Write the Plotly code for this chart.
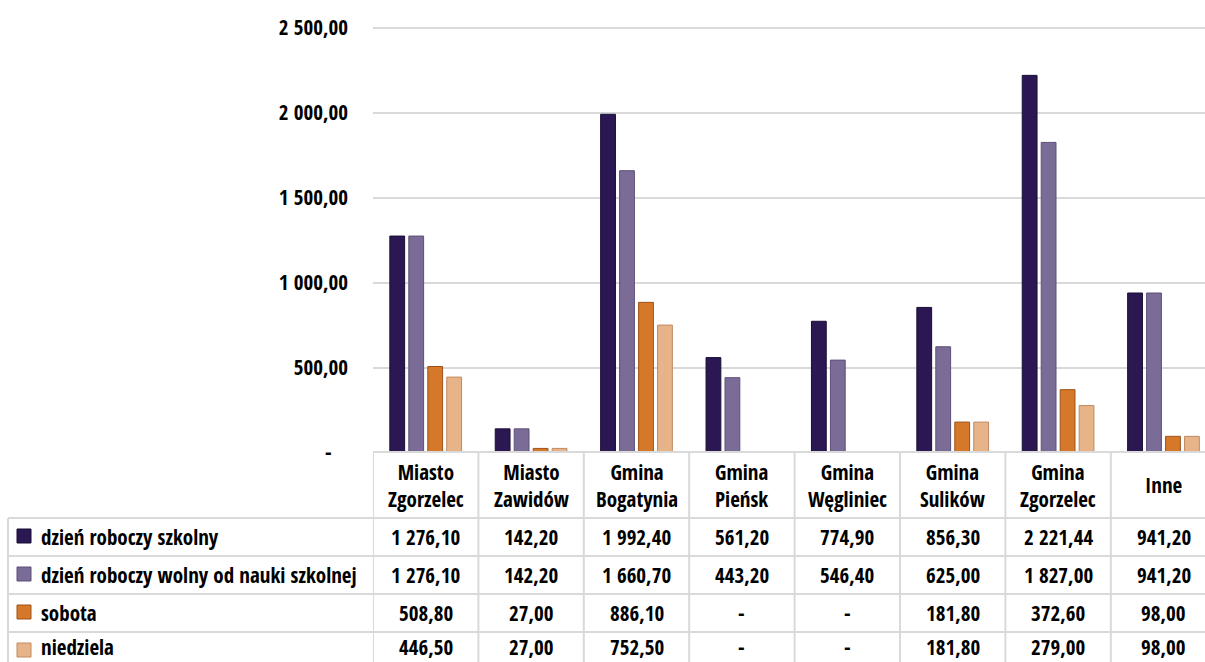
import plotly.graph_objects as go

# --- data -------------------------------------------------------------
categories = ["Miasto Zgorzelec", "Miasto Zawidów", "Gmina Bogatynia", "Gmina Pieńsk",
              "Gmina Węgliniec", "Gmina Sulików", "Gmina Zgorzelec", "Inne"]
header_labels = ["Miasto<br>Zgorzelec", "Miasto<br>Zawidów", "Gmina<br>Bogatynia", "Gmina<br>Pieńsk",
                 "Gmina<br>Węgliniec", "Gmina<br>Sulików", "Gmina<br>Zgorzelec", "Inne"]

series_names = ["dzień roboczy szkolny", "dzień roboczy wolny od nauki szkolnej", "sobota", "niedziela"]
dzien_szkolny = [1276.10, 142.20, 1992.40, 561.20, 774.90, 856.30, 2221.44, 941.20]
dzien_wolny = [1276.10, 142.20, 1660.70, 443.20, 546.40, 625.00, 1827.00, 941.20]
sobota = [508.80, 27.00, 886.10, 0.0, 0.0, 181.80, 372.60, 98.00]
niedziela = [446.50, 27.00, 752.50, 0.0, 0.0, 181.80, 279.00, 98.00]

y_ticks = [0, 500, 1000, 1500, 2000, 2500]

colors = ["#2B1852", "#7B6B97", "#D6782A", "#E6B488"]
edge_colors = ["#1A0E36", "#5E5078", "#9E5218", "#C08A62"]

FONT = "Open Sans Condensed, Liberation Sans Narrow, DejaVu Sans Condensed, Roboto Condensed, Noto Sans"
FS = 21


def fmt(v):
    """Polish accounting style: space thousands, comma decimals, dash for zero."""
    if v == 0:
        return "-"
    s = f"{v:,.2f}"
    return s.replace(",", " ").replace(".", ",")


# --- geometry (pixels of the 1205x662 canvas) -------------------------
W, H = 1205, 662
L, R, T, B = 373, 0, 11, 209
plot_w = W - L - R
plot_h = H - T - B
y_max = 2600


def py(p):
    """pixel row -> paper y"""
    return (H - B - p) / plot_h


def px(p):
    """pixel column -> paper x"""
    return (p - L) / plot_w


n = len(categories)
xs = list(range(n))
fig = go.Figure()
all_series = [dzien_szkolny, dzien_wolny, sobota, niedziela]
for name, vals, c, e in zip(series_names, all_series, colors, edge_colors):
    fig.add_trace(go.Bar(
        x=xs, y=vals, name=name,
        marker=dict(color=c, line=dict(color=e, width=1)),
        showlegend=False,
    ))

# --- data table under the chart ---------------------------------------
row_edges = [452, 518, 556, 594, 632, 670]
# text centre of each body row (the last one is kept inside the canvas)
row_text_y = [537, 575, 613, 647]
grid_col = "#D9D9D9"
shapes = []
# vertical cell borders of category columns
for i in range(n + 1):
    shapes.append(dict(type="line", xref="x", yref="paper", x0=i - 0.5, x1=i - 0.5,
                       y0=py(row_edges[0]), y1=py(row_edges[-1]),
                       line=dict(color=grid_col, width=2)))
# left border of label column
shapes.append(dict(type="line", xref="paper", yref="paper", x0=px(8), x1=px(8),
                   y0=py(row_edges[1]), y1=py(row_edges[-1]), line=dict(color=grid_col, width=2)))
# horizontal borders
shapes.append(dict(type="line", xref="paper", yref="paper", x0=0, x1=1,
                   y0=py(row_edges[0]), y1=py(row_edges[0]), line=dict(color=grid_col, width=2)))
for r in row_edges[1:]:
    shapes.append(dict(type="line", xref="paper", yref="paper", x0=px(8), x1=1,
                       y0=py(r), y1=py(r), line=dict(color=grid_col, width=2)))

annotations = []
tfont = dict(family=FONT, size=FS, color="#000000", weight="bold")
header_c = (row_edges[0] + row_edges[1]) / 2
for i, lab in enumerate(header_labels):
    annotations.append(dict(xref="x", yref="paper", x=i, y=py(header_c), text=lab,
                            showarrow=False, xanchor="center", yanchor="middle",
                            font=tfont, align="center"))
for r, (name, vals, c, e) in enumerate(zip(series_names, all_series, colors, edge_colors)):
    yc = row_text_y[r]
    key_c = (row_edges[r + 1] + row_edges[r + 2]) / 2 - 1
    annotations.append(dict(xref="paper", yref="paper", x=px(39), y=py(yc), text=name,
                            showarrow=False, xanchor="left", yanchor="middle", font=tfont))
    shapes.append(dict(type="rect", xref="paper", yref="paper", x0=px(17), x1=px(31),
                       y0=py(key_c - 7), y1=py(key_c + 7), fillcolor=c, line=dict(color=e, width=1)))
    for i, v in enumerate(vals):
        annotations.append(dict(xref="x", yref="paper", x=i, y=py(yc), text=fmt(v),
                                showarrow=False, xanchor="center", yanchor="middle", font=tfont))

tick_text = [fmt(v) if v else "-\u00a0\u00a0\u00a0" for v in y_ticks]

fig.update_layout(
    width=W, height=H,
    margin=dict(l=L, r=R, t=T, b=B, pad=0),
    paper_bgcolor="white", plot_bgcolor="white",
    barmode="group", bargap=0.28, bargroupgap=0.22,
    font=dict(family=FONT, size=FS, color="#000000"),
    xaxis=dict(range=[-0.5, -0.5 + plot_w / 105.4], showticklabels=False, showgrid=False,
               zeroline=False, showline=False, ticks=""),
    yaxis=dict(range=[0, y_max], tickvals=y_ticks, ticktext=tick_text,
               showgrid=True, gridcolor=grid_col, gridwidth=1.6, zeroline=False,
               showline=False, ticks="", ticklabelstandoff=24,
               tickfont=dict(family=FONT, size=FS, color="#000000", weight="bold")),
    shapes=shapes,
    annotations=annotations,
)

fig.write_html("out.html")
